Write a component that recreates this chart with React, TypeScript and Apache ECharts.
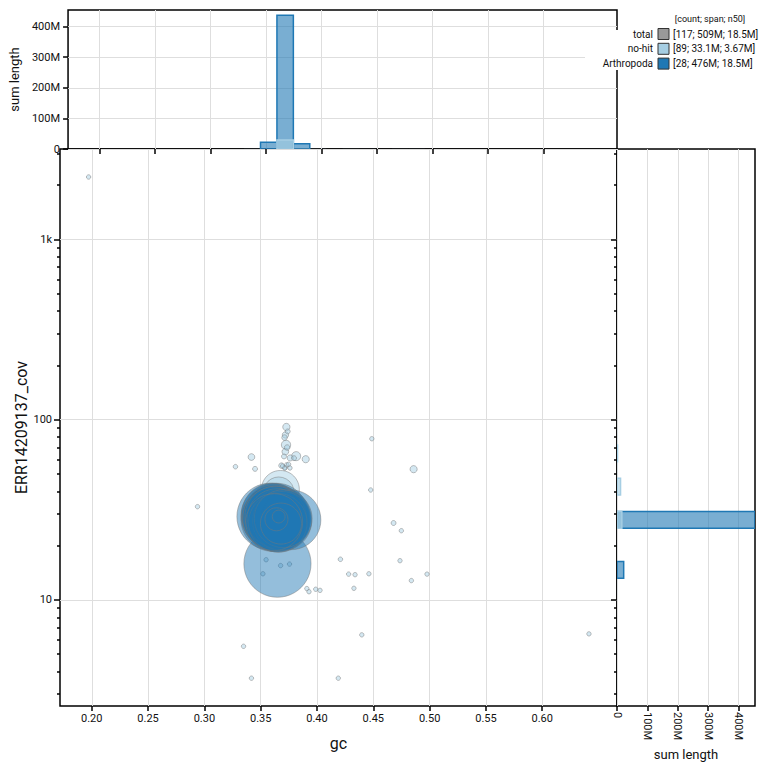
import React, { useEffect, useRef } from "react";
import * as echarts from "echarts";

// ---- categories --------------------------------------------------------
const CATEGORY_NAMES = ["no-hit", "Arthropoda"];
const CATEGORY_COLORS = ["#a6cee3", "#1f78b4"];
const CATEGORY_FILLS = ["rgba(166,206,227,0.6)", "rgba(31,120,180,0.6)"];
const TOTAL_COLOR = "#999999";

// ---- Arthropoda contigs: GC proportion, coverage, length (Mbp) ---------
const ARTHROPODA_GC = [
  0.3649, 0.3585, 0.3612, 0.3625, 0.3608, 0.364, 0.3618, 0.3655, 0.3606, 0.3632,
  0.3668, 0.3615, 0.3648, 0.3621, 0.366, 0.3637, 0.361, 0.3672, 0.3627, 0.3769,
  0.3645, 0.369, 0.3652, 0.37, 0.362, 0.368, 0.364, 0.366,
];
const ARTHROPODA_COV = [
  15.88, 29.0, 29.2, 28.4, 27.9, 29.6, 28.8, 28.0, 29.8, 27.6,
  28.6, 28.1, 29.0, 29.4, 27.2, 28.9, 28.5, 27.9, 29.1, 27.8,
  28.3, 27.4, 26.8, 28.2, 27.0, 26.5, 28.0, 29.0,
];
const ARTHROPODA_LEN = [
  22.0, 21.7, 20.4, 20.1, 19.8, 19.6, 19.4, 19.2, 19.0, 18.8,
  18.7, 18.6, 18.5, 18.4, 18.3, 18.2, 18.0, 17.8, 17.6, 17.4,
  17.2, 17.0, 16.7, 16.3, 15.8, 8.2, 2.6, 0.8,
];

// ---- no-hit contigs: GC proportion, coverage, length (Mbp) -------------
const NOHIT_GC = [
  0.1972, 0.3728, 0.372, 0.3712, 0.3725, 0.3719, 0.3707, 0.3815, 0.39, 0.3762,
  0.3418, 0.3276, 0.345, 0.3684, 0.3716, 0.3748, 0.4487, 0.4858, 0.4477, 0.2939,
  0.468, 0.4749, 0.4208, 0.4737, 0.4281, 0.4338, 0.4461, 0.4977, 0.4838, 0.4328,
  0.391, 0.3929, 0.3989, 0.4027, 0.3548, 0.3677, 0.3756, 0.352, 0.4398, 0.6415,
  0.3348, 0.3418, 0.4189, 0.3796, 0.3695, 0.3731, 0.3713, 0.376, 0.374, 0.3735,
  0.3675, 0.366, 0.364, 0.368, 0.362, 0.37, 0.365,
  0.3625, 0.3662, 0.3641, 0.361, 0.3685, 0.3633, 0.3652, 0.3618, 0.367, 0.3645,
  0.3628, 0.369, 0.3606, 0.3657, 0.3638, 0.3675, 0.3614, 0.3648, 0.368, 0.3622,
  0.366, 0.3635, 0.3695, 0.3612, 0.3667, 0.3643, 0.363, 0.3655, 0.362, 0.3672,
  0.3608, 0.365,
];
const NOHIT_COV = [
  2216, 91.0, 82.2, 79.5, 72.4, 66.4, 62.5, 62.7, 60.3, 61.3,
  62.0, 54.8, 53.3, 55.6, 54.1, 56.5, 78.3, 53.1, 40.7, 32.9,
  26.7, 24.2, 16.8, 16.5, 13.9, 13.8, 13.96, 13.9, 12.8, 11.6,
  11.56, 11.1, 11.46, 11.3, 16.7, 15.5, 15.8, 13.96, 6.4, 6.48,
  5.53, 3.68, 3.68, 61.1, 55.3, 56.1, 53.8, 53.9, 86.0, 70.0,
  41.0, 39.5, 28.5, 29.5, 27.0, 26.5, 30.0,
  28.8, 27.6, 29.4, 28.1, 27.9, 26.9, 28.6, 29.9, 28.3, 27.3,
  30.2, 28.9, 27.7, 29.1, 28.4, 26.8, 29.6, 27.5, 28.7, 28.2,
  29.7, 27.1, 28.0, 29.3, 27.8, 28.5, 30.4, 26.6, 27.4, 29.0,
  28.8, 27.9,
];
const NOHIT_LEN = [
  0.08, 0.26, 0.2, 0.15, 0.42, 0.22, 0.12, 0.4, 0.25, 0.18,
  0.22, 0.1, 0.12, 0.14, 0.1, 0.09, 0.07, 0.25, 0.05, 0.04,
  0.12, 0.05, 0.1, 0.09, 0.08, 0.07, 0.05, 0.07, 0.04, 0.07,
  0.06, 0.05, 0.07, 0.06, 0.09, 0.07, 0.07, 0.06, 0.05, 0.05,
  0.03, 0.03, 0.03, 0.12, 0.08, 0.1, 0.09, 0.08, 0.12, 0.15,
  7.0, 4.6, 3.9, 3.67, 2.2, 1.5, 0.6,
  0.45, 0.36, 0.22, 0.2, 0.19, 0.17, 0.16, 0.15, 0.14, 0.14,
  0.13, 0.12, 0.12, 0.11, 0.11, 0.1, 0.1, 0.09, 0.09, 0.08,
  0.08, 0.08, 0.07, 0.07, 0.07, 0.06, 0.06, 0.06, 0.05, 0.05,
  0.05, 0.04,
];

// ---- axes ------------------------------------------------------------
const GC_MIN = 0.1718;
const GC_MAX = 0.6664;
const COV_MIN = 2.58;
const COV_MAX = 3168;
const GC_TICKS = [0.2, 0.25, 0.3, 0.35, 0.4, 0.45, 0.5, 0.55, 0.6];
const COV_TICKS = [10, 100, 1000];
const COV_MINOR_TICKS = [
  3, 4, 5, 6, 7, 8, 9, 20, 30, 40, 50, 60, 70, 80, 90,
  200, 300, 400, 500, 600, 700, 800, 900, 2000, 3000,
];
const SUM_TICKS = [0, 100, 200, 300, 400];

// histogram binning (gc linear, coverage in log10 space)
const GC_BIN_ORIGIN = 0.3452;
const GC_BIN_WIDTH = 0.0148;
const COV_BIN_ORIGIN_LOG = 1.3977;
const COV_BIN_WIDTH_LOG = 0.0923;

// bubble radius = R_SCALE * sqrt(length in Mbp), never below MIN_R
const R_SCALE = 7.16;
const MIN_R = 2.2;

const FONT = "Roboto";

type Contig = [number, number, number];

function contigs(gc: number[], cov: number[], len: number[]): Contig[] {
  return gc
    .map((g, i) => [g, cov[i], len[i]] as Contig)
    .sort((a, b) => b[2] - a[2]);
}

function n50(len: number[]): number {
  const sorted = [...len].sort((a, b) => b - a);
  const half = sorted.reduce((s, v) => s + v, 0) / 2;
  let acc = 0;
  for (const v of sorted) {
    acc += v;
    if (acc >= half) return v;
  }
  return 0;
}

function fmtM(v: number): string {
  return Number(v.toPrecision(3)).toString() + "M";
}

function gcHistogram(list: Contig[]): number[][] {
  const bins = new Map<number, number>();
  for (const [g, , l] of list) {
    const k = Math.floor((g - GC_BIN_ORIGIN) / GC_BIN_WIDTH);
    bins.set(k, (bins.get(k) || 0) + l);
  }
  return [...bins.entries()].map(([k, s]) => [
    GC_BIN_ORIGIN + k * GC_BIN_WIDTH,
    GC_BIN_ORIGIN + (k + 1) * GC_BIN_WIDTH,
    s,
  ]);
}

function covHistogram(list: Contig[]): number[][] {
  const bins = new Map<number, number>();
  for (const [, c, l] of list) {
    const k = Math.floor((Math.log10(c) - COV_BIN_ORIGIN_LOG) / COV_BIN_WIDTH_LOG);
    bins.set(k, (bins.get(k) || 0) + l);
  }
  return [...bins.entries()].map(([k, s]) => [
    Math.pow(10, COV_BIN_ORIGIN_LOG + k * COV_BIN_WIDTH_LOG),
    Math.pow(10, COV_BIN_ORIGIN_LOG + (k + 1) * COV_BIN_WIDTH_LOG),
    s,
  ]);
}

// a histogram bar; bars thinner than half a pixel get no outline
function barRect(x: number, y: number, w: number, h: number, i: number, depth: number) {
  const visible = depth >= 0.45;
  return {
    type: "rect",
    shape: { x, y, width: w, height: h },
    style: {
      fill: CATEGORY_FILLS[i],
      stroke: visible ? CATEGORY_COLORS[i] : "none",
      lineWidth: visible ? 1.5 : 0,
    },
  };
}

function buildOption() {
  const nohit = contigs(NOHIT_GC, NOHIT_COV, NOHIT_LEN);
  const arth = contigs(ARTHROPODA_GC, ARTHROPODA_COV, ARTHROPODA_LEN);
  const groups = [nohit, arth];

  const gcHists = groups.map(gcHistogram);
  const covHists = groups.map(covHistogram);
  const histMax = Math.max(
    ...gcHists.flat().map((d) => d[2]),
    ...covHists.flat().map((d) => d[2])
  );

  const axisColor = "#000";
  const gridLine = { show: true, lineStyle: { color: "#dedede", width: 1 } };
  const tickStyle = { color: axisColor, width: 1.5 };
  const labelStyle = { fontSize: 11, color: "#111", fontFamily: FONT };
  const frame = {
    show: true,
    borderColor: "#000",
    borderWidth: 1.5,
    backgroundColor: "transparent",
  };
  const sumFormatter = (v: number) => (v === 0 ? "0" : `${Math.round(v)}M`);
  const covFormatter = (v: number) => {
    const r = Math.round(v);
    return r >= 1000 ? `${r / 1000}k` : String(r);
  };

  const scatterSeries = groups.map((data, i) => ({
    type: "scatter",
    name: CATEGORY_NAMES[i],
    xAxisIndex: 0,
    yAxisIndex: 0,
    data,
    silent: true,
    large: false,
    progressive: 0,
    symbol: "circle",
    symbolSize: (val: number[]) => 2 * Math.max(MIN_R, R_SCALE * Math.sqrt(val[2])),
    itemStyle: {
      color: CATEGORY_FILLS[i],
      borderColor: "rgba(120,120,120,0.75)",
      borderWidth: 0.8,
    },
    z: 3 + i,
  }));

  // Arthropoda bars first, no-hit bars drawn over them
  const histOrder = [1, 0];
  const topHistSeries = histOrder.map((i) => ({
    type: "custom",
    name: CATEGORY_NAMES[i] + " gc",
    xAxisIndex: 1,
    yAxisIndex: 2,
    silent: true,
    clip: true,
    data: gcHists[i],
    encode: { x: [0, 1], y: 2 },
    renderItem: (_p: any, api: any) => {
      const a = api.coord([api.value(0), 0]);
      const b = api.coord([api.value(1), api.value(2)]);
      const h = a[1] - b[1];
      return barRect(a[0], b[1], b[0] - a[0], h, i, h);
    },
    z: 3,
  }));
  const rightHistSeries = histOrder.map((i) => ({
    type: "custom",
    name: CATEGORY_NAMES[i] + " cov",
    xAxisIndex: 2,
    yAxisIndex: 3,
    silent: true,
    clip: true,
    data: covHists[i],
    encode: { x: 2, y: [0, 1] },
    renderItem: (_p: any, api: any) => {
      const a = api.coord([0, api.value(0)]);
      const b = api.coord([api.value(2), api.value(1)]);
      const w = b[0] - a[0];
      return barRect(a[0], b[1], w, a[1] - b[1], i, w);
    },
    z: 3,
  }));

  // legend rows: total, then each category
  const allLen = [...NOHIT_LEN, ...ARTHROPODA_LEN];
  const legendRows = [
    { name: "total", color: TOTAL_COLOR, len: allLen },
    { name: CATEGORY_NAMES[0], color: CATEGORY_COLORS[0], len: NOHIT_LEN },
    { name: CATEGORY_NAMES[1], color: CATEGORY_COLORS[1], len: ARTHROPODA_LEN },
  ];
  const legendText = (extra: any) => ({
    fontFamily: FONT,
    fontSize: 10,
    fill: "#111",
    verticalAlign: "middle",
    ...extra,
  });
  const legendElements: any[] = [
    {
      type: "rect",
      shape: { x: 585, y: 30, width: 182, height: 40 },
      style: { fill: "#fff" },
      z: 100,
    },
    {
      type: "text",
      x: 710,
      y: 19,
      style: legendText({ text: "[count; span; n50]", fontSize: 9, align: "center" }),
      z: 101,
    },
  ];
  legendRows.forEach((row, r) => {
    const y = 34 + r * 14.8;
    const total = row.len.reduce((s, v) => s + v, 0);
    legendElements.push(
      {
        type: "text",
        x: 653,
        y,
        style: legendText({ text: row.name, align: "right" }),
        z: 101,
      },
      {
        type: "rect",
        shape: { x: 658, y: y - 5.5, width: 11, height: 11 },
        style: { fill: row.color, stroke: "#333", lineWidth: 1 },
        z: 101,
      },
      {
        type: "text",
        x: 673,
        y,
        style: legendText({
          text: `[${row.len.length}; ${fmtM(total)}; ${fmtM(n50(row.len))}]`,
          align: "left",
        }),
        z: 101,
      }
    );
  });

  return {
    animation: false,
    backgroundColor: "#fff",
    textStyle: { fontFamily: FONT },
    grid: [
      { left: 60, top: 149, width: 557, height: 557, ...frame },
      { left: 60, top: 10, width: 557, height: 139, ...frame },
      { left: 617, top: 149, width: 138, height: 557, ...frame },
    ],
    xAxis: [
      {
        gridIndex: 0,
        type: "value",
        min: GC_MIN,
        max: GC_MAX,
        position: "bottom",
        name: "gc",
        nameLocation: "middle",
        nameGap: 29,
        nameTextStyle: { fontSize: 16, color: "#111", fontFamily: FONT },
        axisLine: { show: false },
        axisTick: { show: true, customValues: GC_TICKS, length: 5, lineStyle: tickStyle },
        axisLabel: {
          ...labelStyle,
          customValues: GC_TICKS,
          margin: 7,
          formatter: (v: number) => v.toFixed(2),
        },
        splitLine: gridLine,
      },
      {
        gridIndex: 1,
        type: "value",
        min: GC_MIN,
        max: GC_MAX,
        position: "bottom",
        axisLine: { show: false },
        axisTick: { show: true, customValues: GC_TICKS, length: 5, lineStyle: tickStyle },
        axisLabel: { show: false, customValues: GC_TICKS },
        splitLine: gridLine,
      },
      {
        gridIndex: 2,
        type: "value",
        min: 0,
        max: histMax,
        position: "bottom",
        name: "sum length",
        nameLocation: "middle",
        nameGap: 37,
        nameTextStyle: { fontSize: 13, color: "#111", fontFamily: FONT },
        axisLine: { show: false },
        axisTick: { show: true, customValues: SUM_TICKS, length: 5, lineStyle: tickStyle },
        axisLabel: {
          ...labelStyle,
          customValues: SUM_TICKS,
          rotate: -90,
          margin: 6,
          formatter: sumFormatter,
        },
        splitLine: gridLine,
      },
    ],
    yAxis: [
      {
        gridIndex: 0,
        type: "log",
        logBase: 10,
        min: COV_MIN,
        max: COV_MAX,
        position: "left",
        name: "ERR14209137_cov",
        nameLocation: "middle",
        nameGap: 31,
        nameMoveOverlap: false,
        nameTextStyle: { fontSize: 16, color: "#111", fontFamily: FONT },
        axisLine: { show: false },
        axisTick: { show: true, customValues: COV_TICKS, length: 6, lineStyle: tickStyle },
        axisLabel: { ...labelStyle, customValues: COV_TICKS, margin: 8, formatter: covFormatter },
        splitLine: gridLine,
      },
      {
        gridIndex: 0,
        type: "log",
        logBase: 10,
        min: COV_MIN,
        max: COV_MAX,
        position: "left",
        axisLine: { show: false },
        axisTick: { show: true, customValues: COV_MINOR_TICKS, length: 3, lineStyle: tickStyle },
        axisLabel: { show: false, customValues: COV_MINOR_TICKS },
        splitLine: { show: false },
      },
      {
        gridIndex: 1,
        type: "value",
        min: 0,
        max: histMax,
        position: "left",
        name: "sum length",
        nameLocation: "middle",
        nameGap: 37,
        nameTextStyle: { fontSize: 13, color: "#111", fontFamily: FONT },
        axisLine: { show: false },
        axisTick: { show: true, customValues: SUM_TICKS, length: 5, lineStyle: tickStyle },
        axisLabel: { ...labelStyle, customValues: SUM_TICKS, margin: 8, formatter: sumFormatter },
        splitLine: gridLine,
      },
      {
        gridIndex: 2,
        type: "log",
        logBase: 10,
        min: COV_MIN,
        max: COV_MAX,
        position: "left",
        axisLine: { show: false },
        axisTick: { show: true, customValues: COV_TICKS, length: 6, lineStyle: tickStyle },
        axisLabel: { show: false, customValues: COV_TICKS },
        splitLine: { show: false },
      },
      {
        gridIndex: 2,
        type: "log",
        logBase: 10,
        min: COV_MIN,
        max: COV_MAX,
        position: "left",
        axisLine: { show: false },
        axisTick: { show: true, customValues: COV_MINOR_TICKS, length: 3, lineStyle: tickStyle },
        axisLabel: { show: false, customValues: COV_MINOR_TICKS },
        splitLine: { show: false },
      },
    ],
    series: [...scatterSeries, ...topHistSeries, ...rightHistSeries],
    graphic: { elements: legendElements },
  };
}

export default function App() {
  const ref = useRef<HTMLDivElement>(null);
  useEffect(() => {
    if (!ref.current) return;
    const chart = echarts.init(ref.current, undefined, { renderer: "svg" });
    chart.setOption(buildOption() as any);
    return () => chart.dispose();
  }, []);
  return (
    <div
      ref={ref}
      style={{ position: "fixed", left: 0, top: 0, width: 767, height: 767, background: "#fff" }}
    />
  );
}
